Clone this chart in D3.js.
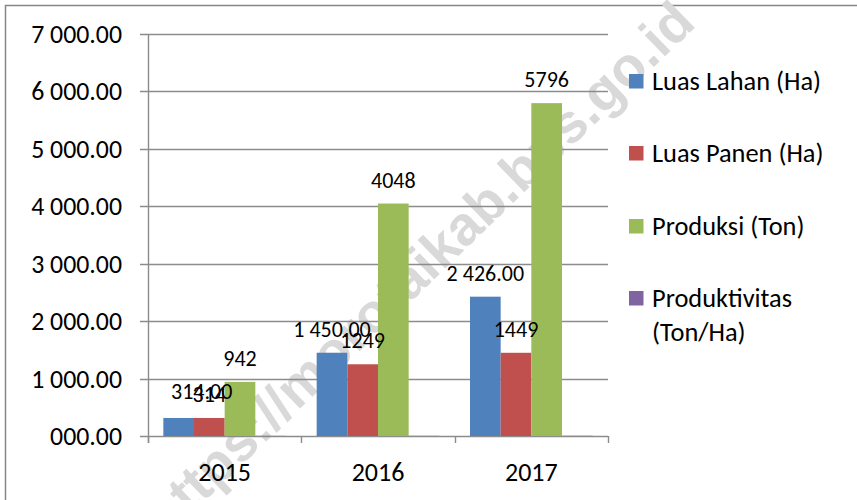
<!DOCTYPE html>
<html>
<head>
<meta charset="utf-8">
<script src="https://cdn.jsdelivr.net/npm/d3@7"></script>
<style>
  html, body { margin: 0; padding: 0; background: #ffffff; }
  svg { display: block; }
  text { font-family: Carlito, Lato, "Liberation Sans", sans-serif; fill: #000; }
</style>
</head>
<body>
<svg id="chart" width="857" height="500"></svg>
<script>
// ---- data ----
const categories = ["2015", "2016", "2017"];
const seriesNames = ["Luas Lahan (Ha)", "Luas Panen (Ha)", "Produksi (Ton)", "Produktivitas (Ton/Ha)"];
const luasLahan = [314, 1450, 2426];
const luasPanen = [314, 1249, 1449];
const produksi = [942, 4048, 5796];
const produktivitas = [3.00, 3.24, 4.00];
const yTicks = [0, 1000, 2000, 3000, 4000, 5000, 6000, 7000];
const watermarkText = "https://morotaikab.bps.go.id";

const seriesValues = [luasLahan, luasPanen, produksi, produktivitas];
const colors = ["#4F81BD", "#C0504D", "#9BBB59", "#8064A2"];

// ---- formats ----
const loc = d3.formatLocale({ decimal: ".", thousands: " ", grouping: [3], currency: ["", ""] });
const f2 = loc.format(",.2f");
function fmtAxis(v) {
  let s = f2(v);
  const intPart = s.split(".")[0];
  if (intPart.replace(/ /g, "").length < 3) {
    s = intPart.replace(/ /g, "").padStart(3, "0") + "." + s.split(".")[1];
  }
  return s;
}
const labelFormats = [fmtAxis, d => String(d), d => String(d), null];

// ---- layout ----
const svg = d3.select("#chart");
const plot = { left: 148, right: 608, top: 34, bottom: 436 };

const x = d3.scaleBand().domain(categories).range([plot.left, plot.right]).paddingInner(0).paddingOuter(0);
const bw = x.bandwidth();
const xs = d3.scaleBand().domain(d3.range(seriesNames.length)).range([bw * 0.1, bw * 0.9]).padding(0);
const y = d3.scaleLinear().domain([0, 7000]).range([plot.bottom, plot.top]);

// ---- outer border ----
svg.append("rect")
  .attr("x", 5.5).attr("y", 5.5).attr("width", 1000).attr("height", 1000)
  .attr("fill", "none").attr("stroke", "#868686").attr("stroke-width", 1.5);

// ---- watermark (behind) ----
svg.append("text")
  .attr("transform", "translate(420,270) rotate(-44)")
  .attr("text-anchor", "middle")
  .attr("dy", "0.3em")
  .style("font-family", "'Liberation Sans', Arial, sans-serif")
  .style("font-weight", "bold")
  .style("font-size", "55px")
  .style("fill", "#d9d9d9")
  .text(watermarkText);

// ---- gridlines ----
svg.append("g").selectAll("line")
  .data(yTicks)
  .join("line")
  .attr("x1", plot.left - 8).attr("x2", plot.right)
  .attr("y1", d => Math.round(y(d)) + 0.5).attr("y2", d => Math.round(y(d)) + 0.5)
  .attr("stroke", "#8c8c8c").attr("stroke-width", 1.4);

// y axis line
svg.append("line")
  .attr("x1", plot.left + 0.5).attr("x2", plot.left + 0.5)
  .attr("y1", y(7000)).attr("y2", plot.bottom + 7)
  .attr("stroke", "#8c8c8c").attr("stroke-width", 1.4);

// x axis tick marks at category boundaries
const bounds = categories.map(c => x(c)).concat([x(categories[categories.length - 1]) + bw]);
svg.append("g").selectAll("line")
  .data(bounds)
  .join("line")
  .attr("x1", d => Math.round(d) + 0.5).attr("x2", d => Math.round(d) + 0.5)
  .attr("y1", plot.bottom).attr("y2", plot.bottom + 7)
  .attr("stroke", "#8c8c8c").attr("stroke-width", 1.4);

// y tick labels
svg.append("g").selectAll("text")
  .data(yTicks)
  .join("text")
  .attr("x", 122).attr("y", d => y(d))
  .attr("text-anchor", "end")
  .attr("dominant-baseline", "central")
  .style("font-size", "25.8px")
  .text(d => fmtAxis(d));

// x labels
svg.append("g").selectAll("text")
  .data(categories)
  .join("text")
  .attr("x", d => x(d) + bw / 2).attr("y", 472)
  .attr("text-anchor", "middle")
  .attr("dominant-baseline", "central")
  .style("font-size", "26px")
  .text(d => d);

// ---- bars ----
const flat = [];
seriesValues.forEach((vals, si) => {
  vals.forEach((v, ci) => flat.push({ si, ci, v }));
});

svg.append("g").selectAll("rect")
  .data(flat)
  .join("rect")
  .attr("x", d => x(categories[d.ci]) + xs(d.si))
  .attr("width", xs.bandwidth())
  .attr("y", d => y(d.v))
  .attr("height", d => y(0) - y(d.v))
  .attr("fill", d => colors[d.si]);

// ---- data labels ----
// manual nudge for the 2015 Luas Lahan label (moved in the original)
function nudge(d) {
  if (d.si === 0 && d.ci === 0) return { dx: 23, dy: -3 };
  return { dx: 0, dy: 0 };
}
svg.append("g").selectAll("text")
  .data(flat.filter(d => labelFormats[d.si]))
  .join("text")
  .attr("x", d => x(categories[d.ci]) + xs(d.si) + xs.bandwidth() / 2 + nudge(d).dx)
  .attr("y", d => y(d.v) - 23.5 + nudge(d).dy)
  .attr("text-anchor", "middle")
  .attr("dominant-baseline", "central")
  .style("font-size", "22px")
  .text(d => labelFormats[d.si](d.v));

// ---- legend ----
const legendY = [81, 153, 226, 298];
const legendLines = [["Luas Lahan (Ha)"], ["Luas Panen (Ha)"], ["Produksi (Ton)"], ["Produktivitas", "(Ton/Ha)"]];
const lg = svg.append("g");
seriesNames.forEach((name, i) => {
  lg.append("rect")
    .attr("x", 629).attr("y", legendY[i] - 7)
    .attr("width", 14.5).attr("height", 14.5)
    .attr("fill", colors[i]);
  legendLines[i].forEach((line, li) => {
    lg.append("text")
      .attr("x", 652).attr("y", legendY[i] + li * 34)
      .attr("dominant-baseline", "central")
      .style("font-size", "26.4px")
      .text(line);
  });
});
</script>
</body>
</html>
